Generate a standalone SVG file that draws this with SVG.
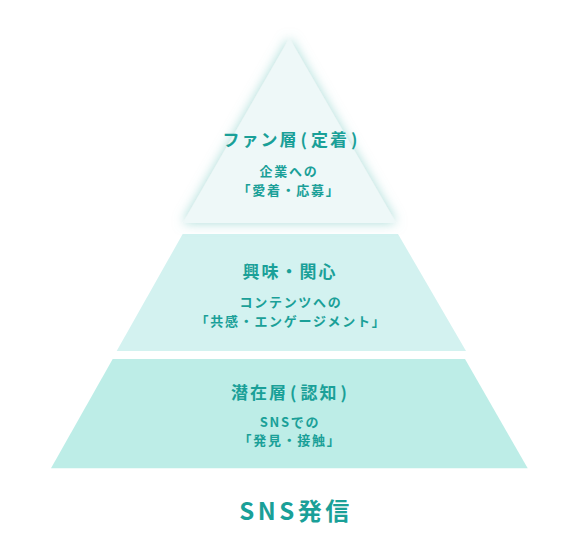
<svg xmlns="http://www.w3.org/2000/svg" width="580" height="546" viewBox="0 0 580 546">
<defs>
<filter id="shadow" x="-30%" y="-30%" width="160%" height="160%">
<feGaussianBlur in="SourceAlpha" stdDeviation="6" result="b"/>
<feFlood flood-color="#6cc3bc" flood-opacity="0.6"/>
<feComposite operator="in" in2="b" result="s"/>
<feMerge><feMergeNode in="s"/><feMergeNode in="SourceGraphic"/></feMerge>
</filter>
<style>
text{font-family:"Noto Sans CJK JP","Noto Sans",sans-serif;fill:#1aa098;text-anchor:middle;font-weight:700}
.t{font-size:17px;letter-spacing:2px}
.s{font-size:13px;letter-spacing:1.7px}
.b{font-size:24px;letter-spacing:3.5px}
</style>
</defs>
<g id="layer-bottom">
<polygon points="112.7,359 465,359 527.7,468.3 51,468.3" fill="#bdede7"/>
<text class="t" x="290" y="398.5">潜在層<tspan dx="2">(</tspan><tspan dx="2">認知</tspan><tspan dx="2">)</tspan></text>
<text class="s" x="290" y="427">SNSでの</text>
<text class="s" x="290" y="445">「発見・接触」</text>
</g>
<g id="layer-middle">
<polygon points="182.7,234 398,234 466,351 116.7,351" fill="#d3f2f0"/>
<text class="t" x="290" y="277.5">興味・関心</text>
<text class="s" x="291" y="306.7">コンテンツへの</text>
<text class="s" x="291" y="326">「共感・エンゲージメント」</text>
</g>
<g id="layer-top">
<polygon points="289.4,38 396.3,223 182.7,223" fill="#eef8f8" filter="url(#shadow)"/>
<text class="t" x="291" y="146">ファン層<tspan dx="2">(</tspan><tspan dx="2">定着</tspan><tspan dx="2">)</tspan></text>
<text class="s" x="289" y="176">企業への</text>
<text class="s" x="289" y="195">「愛着・応募」</text>
</g>
<g id="connectors"/>
<g id="label">
<text class="b" x="296" y="520">SNS発信</text>
</g>
</svg>
